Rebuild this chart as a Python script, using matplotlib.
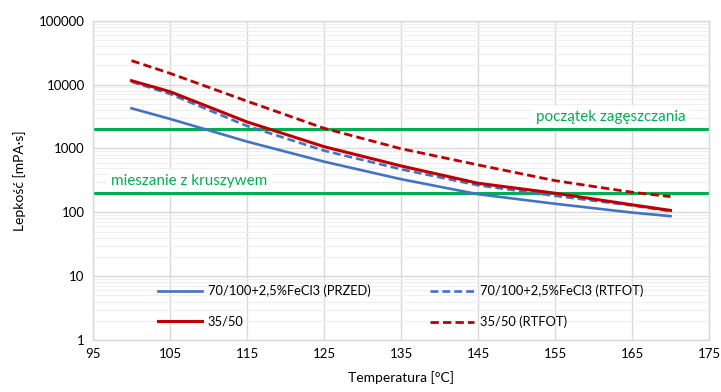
import matplotlib
matplotlib.use("Agg")
import matplotlib.pyplot as plt
from matplotlib.ticker import FixedLocator, LogLocator, NullFormatter, FixedFormatter

plt.rcParams['font.family'] = ['Lato', 'DejaVu Sans']

temps = [100, 105, 115, 125, 135, 145, 155, 165, 170]
fecl3_przed = [4250, 2900, 1280, 621, 330, 192, 136, 99, 87]
fecl3_rtfot = [11100, 7130, 2250, 925, 472, 265, 181, 128, 104]
b3550 = [11500, 7740, 2600, 1066, 532, 285, 199, 131, 107]
b3550_rtfot = [23700, 15000, 5500, 2070, 990, 552, 313, 206, 176]

labels = ["70/100+2,5%FeCl3 (PRZED)", "70/100+2,5%FeCl3 (RTFOT)", "35/50", "35/50 (RTFOT)"]
limit_values = [2000, 200]
limit_labels = ["początek zagęszczania", "mieszanie z kruszywem"]
xticks = [95, 105, 115, 125, 135, 145, 155, 165, 175]
yticks = [1, 10, 100, 1000, 10000, 100000]

blue = "#4472c4"
red = "#c00000"
green = "#00b050"
grid = "#d9d9d9"

fig = plt.figure(figsize=(7.21, 3.92), dpi=100)
ax = fig.add_axes([93/721, 1-340/392, (709-93)/721, (340-20.7)/392])
ax.set_yscale('log')
ax.set_xlim(95, 175)
ax.set_ylim(1, 100000)

ax.xaxis.set_major_locator(FixedLocator(xticks))
ax.yaxis.set_major_locator(FixedLocator(yticks))
ax.yaxis.set_major_formatter(FixedFormatter([str(v) for v in yticks]))
ax.yaxis.set_minor_locator(LogLocator(base=10, subs=range(2, 10)))
ax.yaxis.set_minor_formatter(NullFormatter())
ax.grid(True, which='major', color=grid, linewidth=1.0, zorder=0)
ax.grid(True, which='minor', axis='y', color="#efefef", linewidth=0.8, zorder=0)
ax.set_axisbelow(True)
for s in ax.spines.values():
    s.set_color(grid)
    s.set_linewidth(1.0)
ax.tick_params(which='both', length=0, labelsize=9.5, colors="#000000", pad=6)

ax.axhline(limit_values[0], color=green, linewidth=2.2, zorder=2)
ax.axhline(limit_values[1], color=green, linewidth=2.2, zorder=2)

l1, = ax.plot(temps, fecl3_przed, color=blue, linewidth=1.9, zorder=3)
l2, = ax.plot(temps, fecl3_rtfot, color=blue, linewidth=1.9, linestyle=(0, (3, 1.5)), zorder=3)
l3, = ax.plot(temps, b3550, color=red, linewidth=2.2, zorder=4)
l4, = ax.plot(temps, b3550_rtfot, color=red, linewidth=2.0, linestyle=(0, (3, 1.5)), zorder=4)

ax.text(172, 3100, limit_labels[0], color=green, fontsize=11, ha='right', va='center',
        bbox=dict(facecolor='white', edgecolor='none', pad=3), zorder=5)
ax.text(97.3, 305, limit_labels[1], color=green, fontsize=11, ha='left', va='center',
        bbox=dict(facecolor='white', edgecolor='none', pad=3), zorder=5)

leg = ax.legend([l1, l3, l2, l4], [labels[0], labels[2], labels[1], labels[3]],
                ncol=2, loc='lower left', bbox_to_anchor=(0.087, 0.0), frameon=False,
                fontsize=9.3, handlelength=3.4, handletextpad=0.45, columnspacing=4.6,
                labelspacing=1.45)

ax.set_xlabel("Temperatura [°C]", fontsize=10, labelpad=8)
ax.set_ylabel("Lepkość [mPA·s]", fontsize=10, labelpad=9)

fig.savefig("out.png", dpi=100)
